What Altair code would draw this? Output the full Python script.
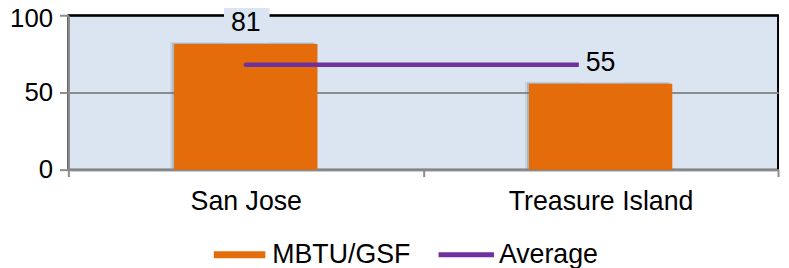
import altair as alt
import pandas as pd

# ---- data ----
sites = ["San Jose", "Treasure Island"]
mbtu = [81.4, 55.6]
average = [68, 68]
bar_labels = ["81", "55"]
series = ["MBTU/GSF", "Average"]
y_ticks = [0, 50, 100]

ORANGE = "#e46c0a"
PURPLE = "#7030a0"
BG = "#dbe5f1"
GRID = "#8c8c8c"
FONT = "Liberation Sans"
FS = 27

df = pd.DataFrame({"site": sites, "mbtu": mbtu, "avg": average, "label": bar_labels})
leg = pd.DataFrame({"series": series, "site": sites, "mbtu": mbtu})

W, H = 717, 156

x_enc = alt.X(
    "site:N", sort=sites,
    scale=alt.Scale(paddingInner=0, paddingOuter=0),
    axis=alt.Axis(title=None, labelAngle=0, domainColor=GRID, domainWidth=2,
                  tickBand="extent", tickColor=GRID, tickWidth=2, tickSize=7,
                  labelFontSize=FS, labelPadding=12, labelColor="black", labelFont=FONT,
                  labelLimit=400),
)
y_scale = alt.Scale(domain=[0, 100], nice=False)
y_axis = alt.Axis(title=None, values=y_ticks, domainColor=GRID, domainWidth=2,
                  tickColor=GRID, tickWidth=2, tickSize=9, labelFontSize=26,
                  labelPadding=7, labelColor="black", labelFont=FONT,
                  labelOffset=alt.condition("datum.value == 100", alt.value(3), alt.value(0)),
                  grid=True, gridWidth=2,
                  gridColor=alt.condition("datum.value == 100", alt.value("black"), alt.value(GRID)))
y_enc = alt.Y("mbtu:Q", scale=y_scale, axis=y_axis)

base = alt.Chart(df)
BW = {"band": 0.404}

shadow1 = base.mark_bar(color="#6f6f6f", opacity=0.15, width=BW, xOffset=-4, yOffset=-2).encode(x=x_enc, y=y_enc)
shadow2 = base.mark_bar(color="#6f6f6f", opacity=0.3, width=BW, xOffset=-2, yOffset=-1).encode(x=x_enc, y=y_enc)
bars = base.mark_bar(color=ORANGE, width=BW).encode(x=x_enc, y=y_enc)

line = base.mark_line(color=PURPLE, strokeWidth=4.5, strokeCap="round").encode(
    x=x_enc, y=alt.Y("avg:Q", scale=y_scale, axis=y_axis)
)

box_path = "M-1,-0.848L1,-0.848L1,0.848L-1,0.848Z"
boxes = base.mark_point(shape=box_path, filled=True, color=BG, opacity=1, size=2116,
                        strokeWidth=0, yOffset=-21, xOffset=1).encode(x=x_enc, y=y_enc)
texts = base.mark_text(fontSize=FS, font=FONT, color="black", baseline="middle", dy=-21).encode(
    x=x_enc, y=y_enc, text="label:N"
)

rect_path = "M-0.929,-0.125L0.929,-0.125L0.929,0.125L-0.929,0.125Z"
line_path = "M-1,-0.09L1,-0.09L1,0.09L-1,0.09Z"
legend_def = dict(title=None, orient="none", legendX=145, legendY=214, direction="horizontal",
                  columns=2, columnPadding=28, labelOffset=5, symbolSize=3136,
                  symbolStrokeWidth=0, symbolOpacity=1, labelFontSize=FS, labelFont=FONT,
                  labelColor="black", padding=0, labelLimit=300)
legend_layer = alt.Chart(leg).mark_point(filled=True, opacity=0).encode(
    x=x_enc, y=y_enc,
    color=alt.Color("series:N", sort=series, scale=alt.Scale(domain=series, range=[ORANGE, PURPLE]),
                    legend=alt.Legend(**legend_def)),
    shape=alt.Shape("series:N", sort=series, scale=alt.Scale(domain=series, range=[rect_path, line_path]),
                    legend=alt.Legend(**legend_def)),
)

chart = alt.layer(shadow1, shadow2, bars, line, boxes, texts, legend_layer).properties(
    width=W, height=H,
    autosize=alt.AutoSizeParams(type="none"),
    padding={"left": 61, "top": 6, "right": 3, "bottom": 98},
).configure(font=FONT).configure_view(fill=BG, stroke="black", strokeWidth=2)

chart.save("out.html", embed_options={"renderer": "svg", "actions": False})
